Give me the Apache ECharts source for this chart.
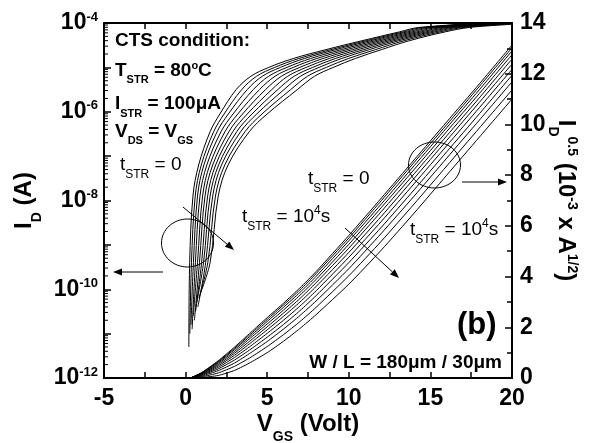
<!DOCTYPE html>
<html><head><meta charset="utf-8">
<script src="https://cdn.jsdelivr.net/npm/echarts@6/dist/echarts.min.js"></script>
<style>html,body{margin:0;padding:0;background:#fff}#c{width:598px;height:443px}</style>
</head><body><div id="c"></div>
<script>
const FONT = 'Liberation Sans, Arial, Helvetica, sans-serif';

// ---- axis ticks ----
const xTicks = [-5, 0, 5, 10, 15, 20];
const leftLabelExps = [-12, -10, -8, -6, -4];
const rightTicks = [0, 2, 4, 6, 8, 10, 12, 14];

// ---- sqrt(ID) curves (right axis, 10^-3 A^1/2), t_STR = 0 ... 10^4 s ----
const sqrtX = [0.3, 1, 2, 3, 4, 5, 6, 7, 8, 10, 12, 14, 16, 18, 20];
const sqrtC0  = [0, 0.22, 0.68, 1.22, 1.80, 2.38, 2.95, 3.55, 4.20, 5.62, 7.10, 8.60, 10.10, 11.60, 13.13];
const sqrtC1  = [0, 0.21, 0.65, 1.17, 1.74, 2.31, 2.88, 3.47, 4.12, 5.52, 7.00, 8.50, 9.99, 11.50, 13.02];
const sqrtC2  = [0, 0.20, 0.62, 1.12, 1.67, 2.23, 2.79, 3.37, 4.01, 5.41, 6.87, 8.37, 9.87, 11.37, 12.90];
const sqrtC3  = [0, 0.18, 0.58, 1.05, 1.59, 2.13, 2.68, 3.26, 3.89, 5.27, 6.73, 8.22, 9.72, 11.22, 12.75];
const sqrtC4  = [0, 0.17, 0.53, 0.98, 1.49, 2.02, 2.56, 3.13, 3.76, 5.12, 6.57, 8.05, 9.55, 11.05, 12.58];
const sqrtC5  = [0, 0.15, 0.48, 0.90, 1.39, 1.90, 2.43, 2.99, 3.61, 4.95, 6.38, 7.87, 9.37, 10.87, 12.38];
const sqrtC6  = [0, 0.13, 0.42, 0.81, 1.27, 1.76, 2.28, 2.83, 3.44, 4.76, 6.18, 7.66, 9.16, 10.66, 12.17];
const sqrtC7  = [0, 0.11, 0.36, 0.71, 1.14, 1.61, 2.11, 2.65, 3.25, 4.55, 5.95, 7.42, 8.92, 10.42, 11.94];
const sqrtC8  = [0, 0.08, 0.29, 0.59, 1.00, 1.44, 1.93, 2.46, 3.04, 4.31, 5.71, 7.17, 8.67, 10.17, 11.68];
const sqrtC9  = [0, 0.05, 0.20, 0.46, 0.82, 1.24, 1.71, 2.22, 2.79, 4.03, 5.40, 6.86, 8.36, 9.86, 11.36];
const sqrtC10 = [0, 0.02, 0.10, 0.30, 0.62, 1.00, 1.45, 1.95, 2.50, 3.70, 5.05, 6.50, 8.00, 9.50, 11.00];
const sqrtCurves = [sqrtC0, sqrtC1, sqrtC2, sqrtC3, sqrtC4, sqrtC5, sqrtC6, sqrtC7, sqrtC8, sqrtC9, sqrtC10];

// ---- log ID curves (left axis): VGS values and log10(ID) values ----
const logX0  = [0.20, 0.25, 0.45, 0.80, 1.50, 2.10, 3.10, 4.00, 5.10, 6.60, 8.60, 10.80, 13.10, 14.30, 20];
const logE0  = [-11.3, -9.4, -7.9, -7.2, -6.45, -6.05, -5.5, -5.2, -5.0, -4.8, -4.6, -4.4, -4.2, -4.1, -3.96];
const logX1  = [0.26, 0.36, 0.59, 0.96, 1.72, 2.36, 3.44, 4.35, 5.46, 6.94, 8.91, 11.06, 13.35, 14.58, 20];
const logE1  = [-11.0, -9.4, -7.9, -7.2, -6.45, -6.05, -5.5, -5.2, -5.0, -4.8, -4.6, -4.4, -4.2, -4.1, -3.965];
const logX2  = [0.33, 0.48, 0.73, 1.12, 1.93, 2.62, 3.78, 4.70, 5.81, 7.28, 9.21, 11.32, 13.60, 14.86, 20];
const logE2  = [-10.8, -9.4, -7.9, -7.2, -6.45, -6.05, -5.5, -5.2, -5.0, -4.8, -4.6, -4.4, -4.2, -4.1, -3.97];
const logX3  = [0.40, 0.60, 0.88, 1.30, 2.17, 2.91, 4.15, 5.09, 6.21, 7.66, 9.55, 11.61, 13.88, 15.17, 20];
const logE3  = [-10.9, -9.4, -7.9, -7.2, -6.45, -6.05, -5.5, -5.2, -5.0, -4.8, -4.6, -4.4, -4.2, -4.1, -3.975];
const logX4  = [0.47, 0.73, 1.04, 1.48, 2.41, 3.20, 4.53, 5.48, 6.60, 8.04, 9.89, 11.90, 14.16, 15.48, 20];
const logE4  = [-10.6, -9.4, -7.9, -7.2, -6.45, -6.05, -5.5, -5.2, -5.0, -4.8, -4.6, -4.4, -4.2, -4.1, -3.98];
const logX5  = [0.54, 0.85, 1.19, 1.66, 2.65, 3.49, 4.90, 5.87, 7.00, 8.42, 10.23, 12.19, 14.44, 15.79, 20];
const logE5  = [-10.7, -9.4, -7.9, -7.2, -6.45, -6.05, -5.5, -5.2, -5.0, -4.8, -4.6, -4.4, -4.2, -4.1, -3.985];
const logX6  = [0.61, 0.98, 1.35, 1.84, 2.89, 3.78, 5.28, 6.26, 7.39, 8.80, 10.57, 12.48, 14.72, 16.10, 20];
const logE6  = [-10.5, -9.4, -7.9, -7.2, -6.45, -6.05, -5.5, -5.2, -5.0, -4.8, -4.6, -4.4, -4.2, -4.1, -3.99];
const logX7  = [0.68, 1.10, 1.50, 2.02, 3.13, 4.07, 5.65, 6.65, 7.79, 9.18, 10.91, 12.77, 15.00, 16.41, 20];
const logE7  = [-10.3, -9.4, -7.9, -7.2, -6.45, -6.05, -5.5, -5.2, -5.0, -4.8, -4.6, -4.4, -4.2, -4.1, -4.0];
const logX8  = [0.75, 1.23, 1.66, 2.20, 3.37, 4.36, 6.03, 7.04, 8.18, 9.56, 11.25, 13.06, 15.28, 16.72, 20];
const logE8  = [-10.4, -9.4, -7.9, -7.2, -6.45, -6.05, -5.5, -5.2, -5.0, -4.8, -4.6, -4.4, -4.2, -4.1, -4.01];
const logX9  = [0.82, 1.36, 1.83, 2.40, 3.64, 4.68, 6.44, 7.47, 8.62, 9.98, 11.63, 13.38, 15.59, 17.06, 20];
const logE9  = [-10.2, -9.4, -7.9, -7.2, -6.45, -6.05, -5.5, -5.2, -5.0, -4.8, -4.6, -4.4, -4.2, -4.1, -4.02];
const logX10 = [0.90, 1.50, 2.00, 2.60, 3.90, 5.00, 6.85, 7.90, 9.05, 10.40, 12.00, 13.70, 15.90, 17.40, 20];
const logE10 = [-10.1, -9.4, -7.9, -7.2, -6.45, -6.05, -5.5, -5.2, -5.0, -4.8, -4.6, -4.4, -4.2, -4.1, -4.03];
const logXs = [logX0, logX1, logX2, logX3, logX4, logX5, logX6, logX7, logX8, logX9, logX10];
const logEs = [logE0, logE1, logE2, logE3, logE4, logE5, logE6, logE7, logE8, logE9, logE10];

// ---- styles ----
const base23 = {fontFamily: FONT, fontWeight: 'bold', fontSize: 23, lineHeight: 26, verticalAlign: 'middle', color: '#000'};
const sup13 = {fontFamily: FONT, fontWeight: 'bold', fontSize: 13, lineHeight: 26, verticalAlign: 'middle', padding: [0, 0, 12, 0], color: '#000'};
const nameRich = {
  a: {fontFamily: FONT, fontWeight: 'bold', fontSize: 24, lineHeight: 27, verticalAlign: 'middle', color: '#000'},
  b: {fontFamily: FONT, fontWeight: 'bold', fontSize: 14, lineHeight: 27, verticalAlign: 'middle', padding: [25, 0, 0, 0], color: '#000'},
  c: {fontFamily: FONT, fontWeight: 'bold', fontSize: 14, lineHeight: 27, verticalAlign: 'middle', padding: [0, 0, 12, 0], color: '#000'}
};

const bRich = {
  a: {fontFamily: FONT, fontWeight: 'bold', fontSize: 19, lineHeight: 22, verticalAlign: 'middle', fill: '#000'},
  s: {fontFamily: FONT, fontWeight: 'bold', fontSize: 11, lineHeight: 22, verticalAlign: 'middle', padding: [19, 0, 0, 0], fill: '#000'},
  p: {fontFamily: FONT, fontWeight: 'bold', fontSize: 11, lineHeight: 22, verticalAlign: 'middle', padding: [0, 0, 10, 0], fill: '#000'}
};
const nRich = {
  a: {fontFamily: FONT, fontWeight: 'normal', fontSize: 19, lineHeight: 22, verticalAlign: 'middle', fill: '#000'},
  s: {fontFamily: FONT, fontWeight: 'normal', fontSize: 12, lineHeight: 22, verticalAlign: 'middle', padding: [20, 0, 0, 0], fill: '#000'},
  p: {fontFamily: FONT, fontWeight: 'normal', fontSize: 12, lineHeight: 22, verticalAlign: 'middle', padding: [0, 0, 13, 0], fill: '#000'}
};

function txt(x, y, text, rich, align) {
  return {type: 'text', x: x, y: y, silent: true, z: 10,
    style: {text: text, rich: rich, align: align || 'left', verticalAlign: 'middle', fill: '#000'}};
}
function arrow(x1, y1, x2, y2) {
  const ang = Math.atan2(y2 - y1, x2 - x1), L = 9, W = 3.5;
  const bx = x2 - L * Math.cos(ang), by = y2 - L * Math.sin(ang);
  const px = -Math.sin(ang) * W, py = Math.cos(ang) * W;
  return [
    {type: 'line', silent: true, shape: {x1: x1, y1: y1, x2: bx, y2: by}, style: {stroke: '#000', lineWidth: 1}},
    {type: 'polygon', silent: true, shape: {points: [[x2, y2], [bx + px, by + py], [bx - px, by - py]]}, style: {fill: '#000'}}
  ];
}

const lineBase = {type: 'line', xAxisIndex: 0, showSymbol: false, symbol: 'none',
  lineStyle: {color: '#000', width: 1}, silent: true, animation: false, z: 3};

const series = [];
sqrtCurves.forEach((c, k) => {
  series.push(Object.assign({}, lineBase, {name: 'sqrt' + k, yAxisIndex: 1, smooth: 0.2, data: sqrtX.map((x, i) => [x, c[i]])}));
});
logXs.forEach((xs, k) => {
  series.push(Object.assign({}, lineBase, {name: 'log' + k, yAxisIndex: 0, smooth: 0.35, data: xs.map((x, i) => [x, Math.pow(10, logEs[k][i])])}));
});
// log-style minor ticks on the left axis
const minorTickVals = [];
for (let n = -12; n < -4; n++) for (let k = 2; k <= 9; k++) minorTickVals.push([xTicks[0], k * Math.pow(10, n)]);
series.push({type: 'custom', xAxisIndex: 0, yAxisIndex: 0, data: minorTickVals, silent: true, clip: false, z: 4,
  renderItem: function (p, api) {
    const pt = api.coord([api.value(0), api.value(1)]);
    return {type: 'line', shape: {x1: pt[0], y1: pt[1], x2: pt[0] + 4, y2: pt[1]}, style: {stroke: '#000', lineWidth: 1}};
  }});

const tickStyle = {color: '#000', width: 1.5};
const axisLineStyle = {color: '#000', width: 2};

const option = {
  animation: false,
  backgroundColor: '#fff',
  grid: {left: 104, right: 86, top: 23, bottom: 65, containLabel: false, outerBoundsMode: 'none'},
  xAxis: [
    {type: 'value', min: xTicks[0], max: xTicks[xTicks.length - 1], interval: 5, position: 'bottom',
      axisLine: {onZero: false, lineStyle: axisLineStyle},
      axisTick: {inside: true, length: 6, lineStyle: tickStyle},
      minorTick: {show: true, splitNumber: 2, length: 6, lineStyle: tickStyle},
      splitLine: {show: false},
      axisLabel: {color: '#000', fontFamily: FONT, fontWeight: 'bold', fontSize: 23, margin: 9},
      name: '{a|V}{b|GS}{a| (Volt)}', nameLocation: 'middle', nameGap: 33, nameMoveOverlap: false,
      nameTextStyle: {rich: nameRich}},
    {type: 'value', min: xTicks[0], max: xTicks[xTicks.length - 1], interval: 5, position: 'top',
      axisLine: {onZero: false, lineStyle: axisLineStyle},
      axisTick: {inside: true, length: 6, lineStyle: tickStyle},
      minorTick: {show: true, splitNumber: 2, length: 6, lineStyle: tickStyle},
      splitLine: {show: false}, axisLabel: {show: false}}
  ],
  yAxis: [
    {type: 'log', logBase: 10, min: 1e-12, max: 1e-4, position: 'left',
      axisLine: {show: true, onZero: false, lineStyle: axisLineStyle},
      axisTick: {show: true, inside: true, length: 7, lineStyle: tickStyle},
      splitLine: {show: false},
      axisLabel: {margin: 6, rich: {b: base23, s: sup13},
        formatter: function (v) {
          const e = Math.round(Math.log10(v));
          return leftLabelExps.indexOf(e) >= 0 ? '{b|10}{s|' + e + '}' : '';
        }},
      name: '{a|I}{b|D}{a| (A)}', nameLocation: 'middle', nameRotate: 90, nameGap: 66, nameMoveOverlap: false,
      nameTextStyle: {rich: nameRich}},
    {type: 'value', min: rightTicks[0], max: rightTicks[rightTicks.length - 1], interval: 2, position: 'right',
      axisLine: {show: true, onZero: false, lineStyle: axisLineStyle},
      axisTick: {show: true, inside: true, length: 7, lineStyle: tickStyle},
      minorTick: {show: true, splitNumber: 2, length: 5, lineStyle: tickStyle},
      splitLine: {show: false},
      axisLabel: {color: '#000', fontFamily: FONT, fontWeight: 'bold', fontSize: 23, margin: 8},
      name: '{a|I}{b|D}{c|0.5}{a| (10}{c|-3}{a| x A}{c|1/2}{a|)}', nameLocation: 'middle', nameRotate: -90, nameGap: 40, nameMoveOverlap: false,
      nameTextStyle: {rich: nameRich}}
  ],
  series: series,
  graphic: [].concat(
    [
      txt(115, 41, '{a|CTS condition:}', bRich),
      txt(115, 70.5, '{a|T}{s|STR}{a| = 80}{p|o}{a|C}', bRich),
      txt(115, 104, '{a|I}{s|STR}{a| = 100μA}', bRich),
      txt(115, 131.5, '{a|V}{s|DS}{a| = V}{s|GS}', bRich),
      txt(120, 165, '{a|t}{s|STR}{a| = 0}', nRich),
      txt(308, 179, '{a|t}{s|STR}{a| = 0}', nRich),
      txt(242, 217, '{a|t}{s|STR}{a| = 10}{p|4}{a|s}', nRich),
      txt(410, 230, '{a|t}{s|STR}{a| = 10}{p|4}{a|s}', nRich),
      {type: 'text', x: 457, y: 325, silent: true, style: {text: '(b)', fontFamily: FONT, fontWeight: 'bold', fontSize: 31, fill: '#000', align: 'left', verticalAlign: 'middle'}},
      txt(502, 363, '{a|W / L = 180μm / 30μm}', bRich, 'right'),
      {type: 'ellipse', silent: true, shape: {cx: 187.5, cy: 243, rx: 26, ry: 24}, style: {fill: 'none', stroke: '#000', lineWidth: 1}},
      {type: 'ellipse', silent: true, shape: {cx: 434.5, cy: 165, rx: 26, ry: 23}, style: {fill: 'none', stroke: '#000', lineWidth: 1}}
    ],
    arrow(163, 272, 113, 272),
    arrow(462, 182, 507, 182),
    arrow(183, 207, 234, 250),
    arrow(345, 228, 399, 278)
  )
};

const chart = echarts.init(document.getElementById('c'), null, {renderer: 'canvas'});
chart.setOption(option);
</script>
</body></html>
